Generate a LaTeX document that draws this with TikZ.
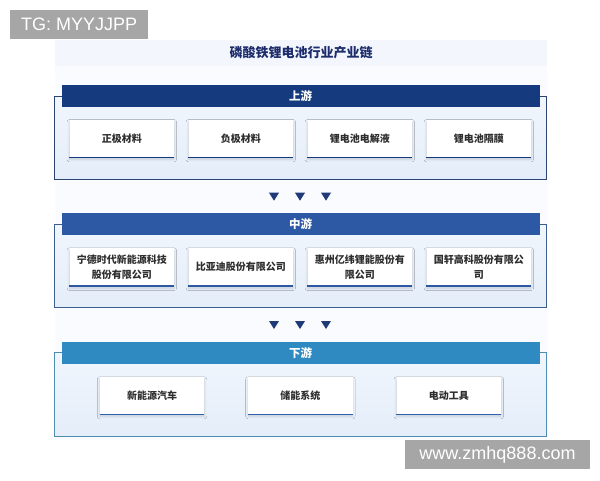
\documentclass[tikz,border=0pt]{standalone}
\usepackage{fontspec}
\setmainfont{Liberation Sans}
\newfontfamily\cjk{Noto Sans CJK SC}
\usetikzlibrary{shadows.blur}
\definecolor{upc}{HTML}{153A7D}
\definecolor{midc}{HTML}{2C58A4}
\definecolor{downc}{HTML}{2F8AC2}
\definecolor{upb}{HTML}{2B4570}
\definecolor{midb}{HTML}{3D5D8E}
\definecolor{downb}{HTML}{4C8DB0}
\definecolor{titlec}{HTML}{1C2C6C}
\definecolor{txt}{HTML}{2E2E2E}
\definecolor{arrc}{HTML}{1E3A78}
\definecolor{wm}{HTML}{A6A6A6}
\definecolor{band}{HTML}{F3F6FC}
\definecolor{panel}{HTML}{FAFBFE}
\definecolor{otop}{HTML}{F1F6FD}
\definecolor{obot}{HTML}{E4EDF9}
\begin{document}
\begin{tikzpicture}[x=1pt,y=-1pt,
  outerbox/.style={rectangle, line width=0.9pt, top color=otop, bottom color=obot, minimum width=492pt, inner sep=0pt},
  hdr/.style={rectangle, minimum width=478pt, minimum height=22pt, inner sep=0pt, text=white, font=\cjk\bfseries\fontsize{11.5}{13}\selectfont},
  cbox/.style={rectangle, fill=white, inner sep=0pt, minimum width=104.5pt, align=center, text=txt,
    font=\cjk\bfseries\fontsize{10}{15}\selectfont,
    blur shadow={shadow xshift=0pt, shadow yshift=-2pt, shadow blur radius=2.5pt, shadow opacity=14}},
  edge/.style={line width=1.6pt},
  wmark/.style={fill=wm, text=white, inner sep=0pt, font=\fontsize{18}{20}\selectfont}
]
\useasboundingbox (0,0) rectangle (600,480);
\fill[white] (0,0) rectangle (600,480);
\fill[panel] (55,65) rectangle (547,440);
% title band
\node[rectangle, fill=band, minimum width=492pt, minimum height=26pt, inner sep=0pt,
  text=titlec, font=\cjk\bfseries\fontsize{13}{15}\selectfont] (title) at (301,52.5) {磷酸铁锂电池行业产业链};

% upstream
\node[outerbox, draw=upb, minimum height=83.5pt] (uo) at (300.5,137.75) {};
\node[hdr, fill=upc] (uh) at (300.5,96) {上游};
\foreach \x/\n/\t in {121.8/u1/正极材料, 240.8/u2/负极材料, 359.8/u3/锂电池电解液, 478.8/u4/锂电池隔膜}{
  \node[cbox, minimum height=37.3pt] (\n) at (\x,138.7) {\t};
  \draw[edge, upc] (\n.south west) -- (\n.south east);
}

% arrows 1
\foreach \x in {274,300,326}{
  \fill[arrc] (\x-5,192.7) -- (\x+5,192.7) -- (\x,200.7) -- cycle;
}

% midstream
\node[outerbox, draw=midb, minimum height=83.7pt] (mo) at (300.5,265.85) {};
\node[hdr, fill=midc] (mh) at (300.5,223.85) {中游};
\foreach \x/\n/\t in {121.8/m1/{宁德时代新能源科技\\股份有限公司}, 240.8/m2/比亚迪股份有限公司, 359.8/m3/{惠州亿纬锂能股份有\\限公司}, 478.8/m4/{国轩高科股份有限公\\司}}{
  \node[cbox, minimum height=37.7pt] (\n) at (\x,267.15) {\t};
  \draw[edge, midc] (\n.south west) -- (\n.south east);
}

% arrows 2
\foreach \x in {274,300,326}{
  \fill[arrc] (\x-5,321) -- (\x+5,321) -- (\x,329) -- cycle;
}

% downstream
\node[outerbox, draw=downb, minimum height=83.3pt] (do) at (300.5,394.35) {};
\node[hdr, fill=downc] (dh) at (300.5,352.85) {下游};
\foreach \x/\n/\t in {152/d1/新能源汽车, 300.4/d2/储能系统, 448.8/d3/电动工具}{
  \node[cbox, minimum height=37pt] (\n) at (\x,395.8) {\t};
  \draw[edge, midc!80!downc] (\n.south west) -- (\n.south east);
}

% watermarks
\node[wmark, minimum width=138.3pt, minimum height=29.3pt] (wm1) at (79.15,24.65) {TG: MYYJJPP};
\node[wmark, minimum width=185pt, minimum height=29.3pt] (wm2) at (497.5,454.65) {www.zmhq888.com};
\end{tikzpicture}
\end{document}
